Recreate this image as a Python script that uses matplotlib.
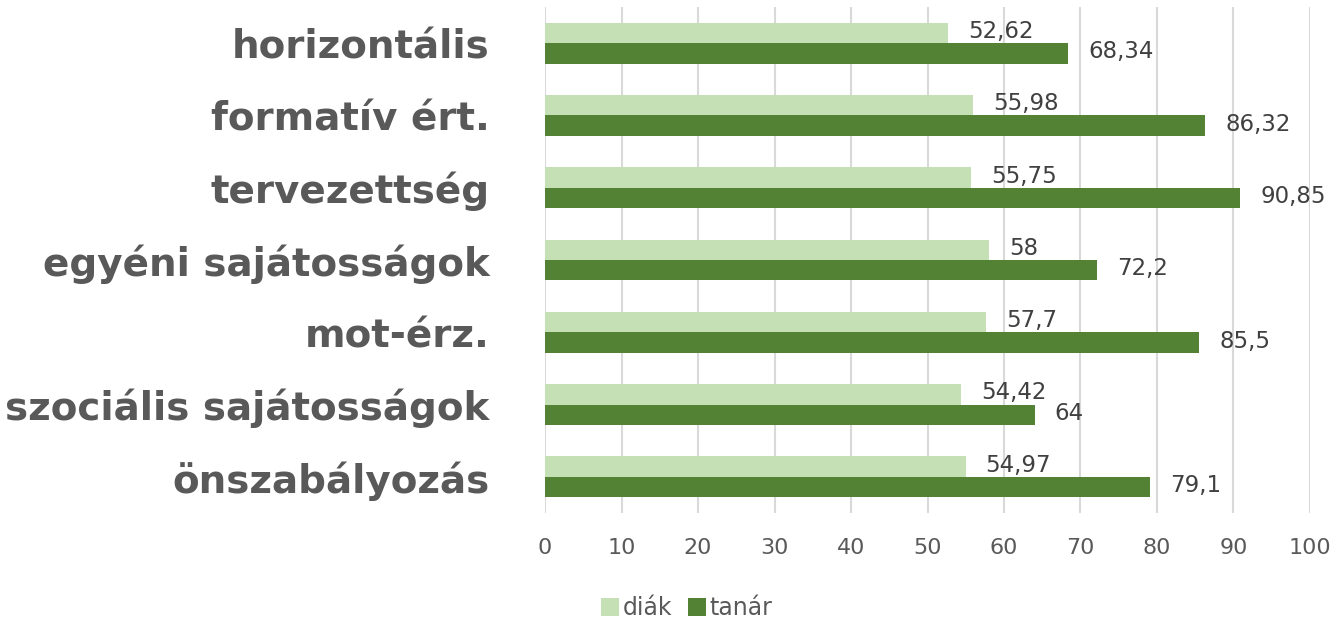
import matplotlib.pyplot as plt
import numpy as np

categories = ['horizontális', 'formatív ért.', 'tervezettség', 'egyéni sajátosságok',
              'mot-érz.', 'szociális sajátosságok', 'önszabályozás']
diak = [52.62, 55.98, 55.75, 58, 57.7, 54.42, 54.97]
tanar = [68.34, 86.32, 90.85, 72.2, 85.5, 64, 79.1]
xticks = [0, 10, 20, 30, 40, 50, 60, 70, 80, 90, 100]


def fmt(v):
    # hungarian decimal comma
    s = ('%.2f' % v).rstrip('0').rstrip('.')
    return s.replace('.', ',')


fig = plt.figure(figsize=(13.36, 6.22), dpi=100)
ax = fig.add_axes([0.408, 0.1752, 0.5725, 0.8137])

y = np.arange(len(categories))
h = 0.283
b1 = ax.barh(y - h / 2, diak, height=h, color='#C5E0B4', label='diák', zorder=3)
b2 = ax.barh(y + h / 2, tanar, height=h, color='#548235', label='tanár', zorder=3)

for bars, vals in ((b1, diak), (b2, tanar)):
    for bar, v in zip(bars, vals):
        ax.annotate(fmt(v), (bar.get_width(), bar.get_y() + bar.get_height() / 2),
                    xytext=(14.5, 1), textcoords='offset points', va='center', ha='left',
                    fontsize=16.5, color='#404040')

ax.set_ylim(len(categories) - 0.5, -0.5)
ax.set_xlim(0, 100)
ax.set_xticks(xticks)
ax.set_yticks(y)
ax.set_yticklabels(categories, fontsize=28, fontweight='bold', color='#595959')
ax.tick_params(axis='x', labelsize=16, labelcolor='#595959', length=0, pad=18)
ax.tick_params(axis='y', length=0, pad=40)
ax.xaxis.grid(True, color='#D9D9D9', linewidth=1.5, zorder=0)
for s in ax.spines.values():
    s.set_visible(False)

fig.legend(loc='center', bbox_to_anchor=(0.514, 0.022), ncol=2, frameon=False,
           fontsize=17, labelcolor='#595959', handlelength=0.75, handleheight=0.75,
           handletextpad=0.15, columnspacing=0.7, borderpad=0)

fig.savefig('out.png', dpi=100)
